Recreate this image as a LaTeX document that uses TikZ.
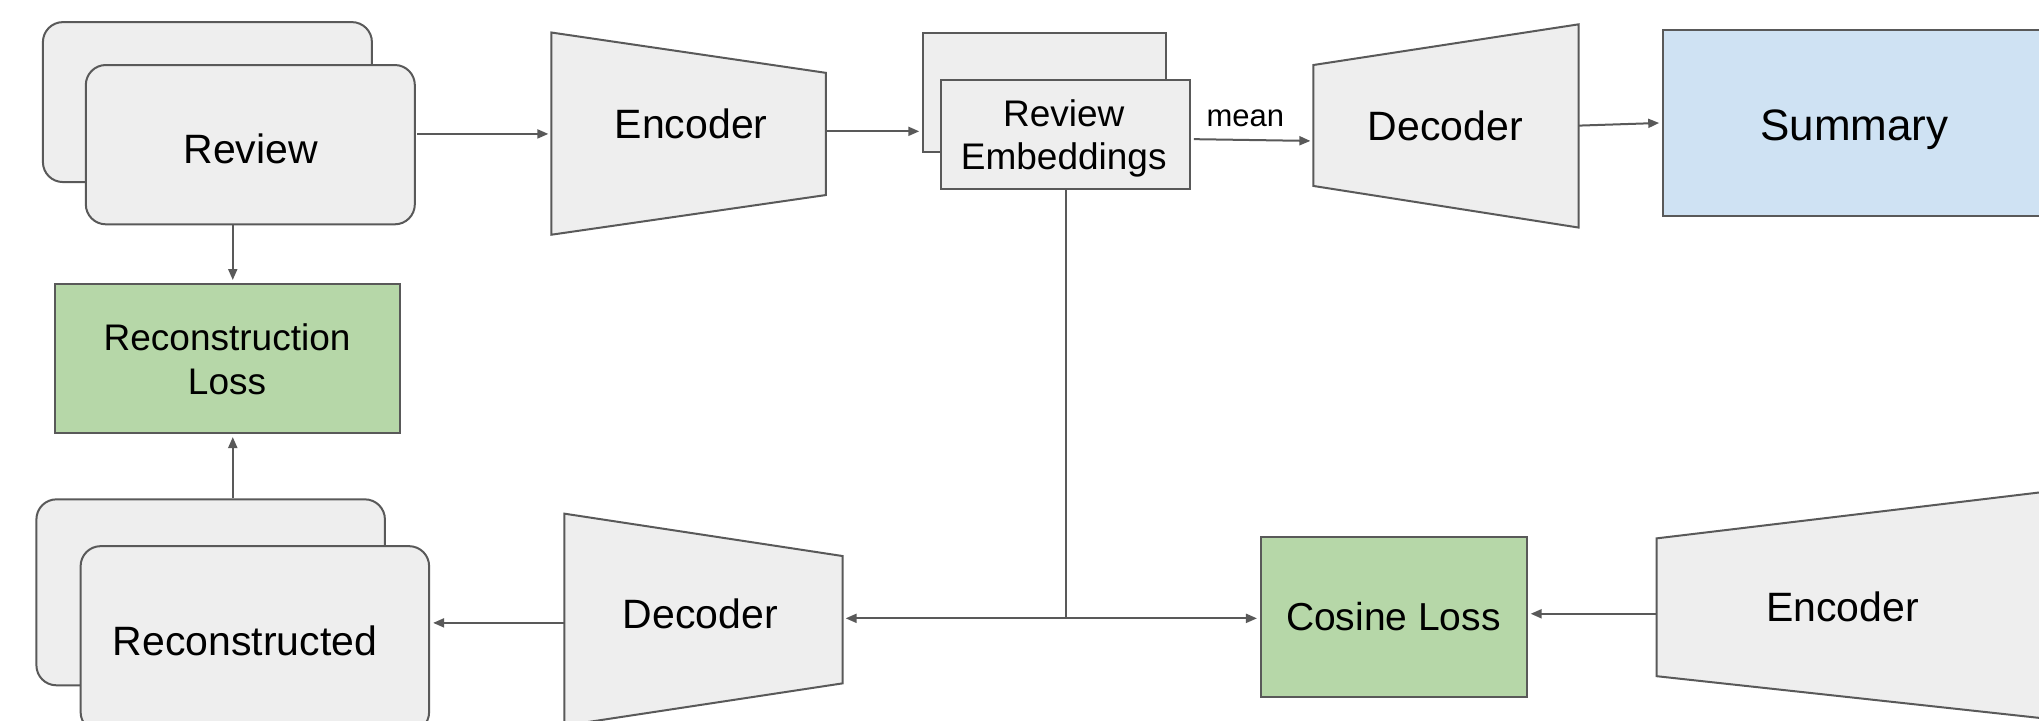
\documentclass[tikz,border=0pt]{standalone}
\usepackage{fontspec}
\setmainfont{Liberation Sans}
\usetikzlibrary{arrows.meta,fit}
\definecolor{lc}{HTML}{595959}
\definecolor{gf}{HTML}{EEEEEE}
\definecolor{gr}{HTML}{B6D7A8}
\definecolor{bl}{HTML}{CFE2F3}
\begin{document}
\begin{tikzpicture}[x=1.3004pt,y=-1.3004pt,
  shp/.style={draw=lc,fill=gf,line width=2pt},
  sbox/.style={shp,inner sep=0pt},
  rbox/.style={sbox,rounded corners=20pt},
  gbox/.style={sbox,fill=gr},
  bbox/.style={sbox,fill=bl},
  ln/.style={draw=lc,line width=2pt},
  arr/.style={ln,-{Triangle[length=11pt,width=9pt]},shorten >=3pt},
  txt/.style={inner sep=0pt,anchor=base,text=black},
  fbig/.style={font=\fontsize{41}{47}\selectfont},
  fsum/.style={font=\fontsize{44}{50}\selectfont},
  fmid/.style={font=\fontsize{37}{43}\selectfont},
  fcos/.style={font=\fontsize{39}{45}\selectfont},
  fsml/.style={font=\fontsize{31}{36}\selectfont}]
\useasboundingbox (0,0) rectangle (1568,553.7);
\clip (0,0) rectangle (1568,553.7);

% Review stack
\node[rbox,fit={(33,17)(286,140)}] (revB) {};
\node[rbox,fit={(66,50)(319,172.5)}] (revF) {};
\node[txt,fbig] (revT) at (192.8,126) {Review};

% Top encoder
\draw[shp] (424,25) -- (635,56) -- (635,150) -- (424,180.5) -- cycle;
\coordinate (encAin) at (424,103);
\coordinate (encAout) at (635,101);
\node[txt,fbig] (encAT) at (531.5,106.5) {Encoder};

% Review embeddings stack
\node[sbox,fit={(710,25)(897,117)}] (embB) {};
\node[sbox,fit={(724,61.5)(915,145)}] (embF) {};
\node[txt,fmid] (embT1) at (818,97) {Review};
\node[txt,fmid] (embT2) at (818,130.5) {Embeddings};

% mean label
\node[txt,fsml] (meanT) at (957.7,97.4) {mean};

% Top decoder
\draw[shp] (1010,50) -- (1214,18.7) -- (1214,175) -- (1010,143) -- cycle;
\coordinate (decAin) at (1010,108.4);
\coordinate (decAout) at (1214,96.6);
\node[txt,fbig] (decAT) at (1111.5,108) {Decoder};

% Summary
\node[bbox,fit={(1279,23)(1573,166)}] (sum) {};
\node[txt,fsum] (sumT) at (1426,107.7) {Summary};

% Reconstruction loss
\node[gbox,fit={(42,218.4)(307.6,333)}] (recl) {};
\node[txt,fmid] (reclT1) at (174.6,269.8) {Reconstruction};
\node[txt,fmid] (reclT2) at (174.6,303.5) {Loss};

% Reconstructed stack
\node[rbox,fit={(28,384)(296,527)}] (recB) {};
\node[rbox,fit={(62,420)(330,563)}] (recF) {};
\node[txt,fbig] (recT) at (188.5,504) {Reconstructed};

% Bottom decoder
\draw[shp] (434,395) -- (648,427.6) -- (648,525.5) -- (434,558) -- cycle;
\coordinate (decBin) at (648,475.5);
\coordinate (decBout) at (434,479);
\node[txt,fbig] (decBT) at (538.5,483) {Decoder};

% Cosine loss
\node[gbox,fit={(969.7,413)(1174,536)}] (cos) {};
\node[txt,fcos] (cosT) at (1071.5,485) {Cosine Loss};

% Bottom encoder
\draw[shp] (1274,414) -- (1620,372.5) -- (1620,557.7) -- (1274,520) -- cycle;
\coordinate (encBout) at (1274,472);
\node[txt,fbig] (encBT) at (1417,478) {Encoder};

% Connectors
\coordinate (colA) at (179,300);
\coordinate (junc) at (819.5,475.5);
\draw[arr,shorten <=1.5pt] (revF.east |- encAin) -- (encAin);
\draw[arr,shorten <=1pt] (encAout) -- (encAout -| embB.west);
\draw[arr] ([xshift=3pt,yshift=-4.9pt]embF.east) -- (decAin);
\draw[arr] (decAout) -- (sum.west);
\draw[arr] (revF.south -| colA) -- (recl.north -| colA);
\draw[arr] (recB.north -| colA) -- (recl.south -| colA);
\draw[arr] (decBout) -- (decBout -| recF.east);
\draw[ln] (embF.south) -- (junc);
\draw[arr] (junc) -- (decBin);
\draw[arr] (junc) -- (cos.west |- junc);
\draw[arr] (encBout) -- (encBout -| cos.east);
\end{tikzpicture}
\end{document}
